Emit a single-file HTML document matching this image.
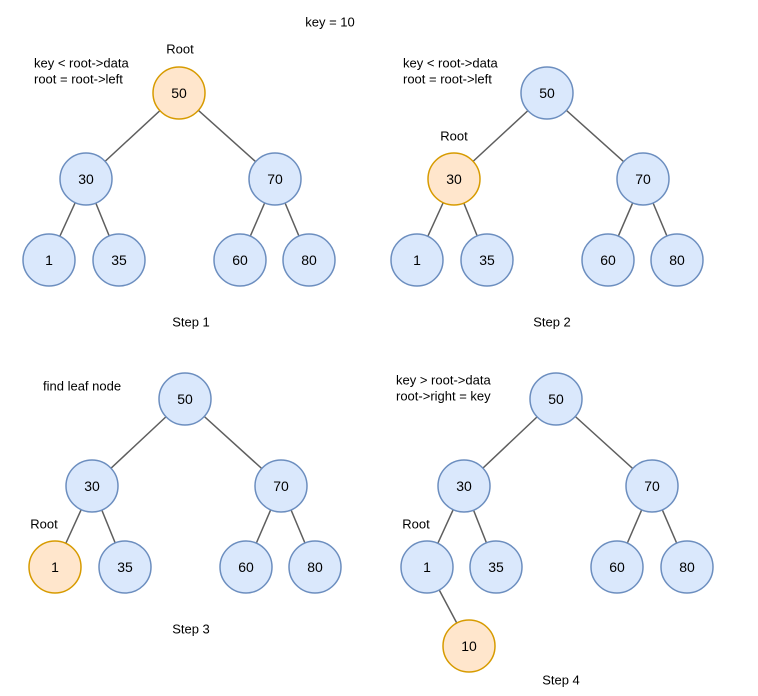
<!DOCTYPE html>
<html><head><style>body{margin:0;background:#fff}svg{display:block}</style></head><body>
<svg width="758" height="696" xmlns="http://www.w3.org/2000/svg" font-family="Liberation Sans, Arial, sans-serif" font-size="13">
<g stroke="#5e5e5e" stroke-width="1.5">
<line x1="179" y1="93" x2="86" y2="179"/><line x1="179" y1="93" x2="275" y2="179"/>
<line x1="86" y1="179" x2="49" y2="260"/><line x1="86" y1="179" x2="119" y2="260"/>
<line x1="275" y1="179" x2="240" y2="260"/><line x1="275" y1="179" x2="309" y2="260"/>
<line x1="547" y1="93" x2="454" y2="179"/><line x1="547" y1="93" x2="643" y2="179"/>
<line x1="454" y1="179" x2="417" y2="260"/><line x1="454" y1="179" x2="487" y2="260"/>
<line x1="643" y1="179" x2="608" y2="260"/><line x1="643" y1="179" x2="677" y2="260"/>
<line x1="185" y1="399" x2="92" y2="486"/><line x1="185" y1="399" x2="281" y2="486"/>
<line x1="92" y1="486" x2="55" y2="567"/><line x1="92" y1="486" x2="125" y2="567"/>
<line x1="281" y1="486" x2="246" y2="567"/><line x1="281" y1="486" x2="315" y2="567"/>
<line x1="556" y1="399" x2="464" y2="486"/><line x1="556" y1="399" x2="652" y2="486"/>
<line x1="464" y1="486" x2="427" y2="567"/><line x1="464" y1="486" x2="496" y2="567"/>
<line x1="652" y1="486" x2="617" y2="567"/><line x1="652" y1="486" x2="687" y2="567"/>
<line x1="427" y1="567" x2="469" y2="646"/>
</g>
<g stroke-width="1.5">
<g fill="#dae8fc" stroke="#6c8ebf">
<circle cx="86" cy="179" r="26"/><circle cx="275" cy="179" r="26"/><circle cx="49" cy="260" r="26"/><circle cx="119" cy="260" r="26"/><circle cx="240" cy="260" r="26"/><circle cx="309" cy="260" r="26"/>
<circle cx="547" cy="93" r="26"/><circle cx="643" cy="179" r="26"/><circle cx="417" cy="260" r="26"/><circle cx="487" cy="260" r="26"/><circle cx="608" cy="260" r="26"/><circle cx="677" cy="260" r="26"/>
<circle cx="185" cy="399" r="26"/><circle cx="92" cy="486" r="26"/><circle cx="281" cy="486" r="26"/><circle cx="125" cy="567" r="26"/><circle cx="246" cy="567" r="26"/><circle cx="315" cy="567" r="26"/>
<circle cx="556" cy="399" r="26"/><circle cx="464" cy="486" r="26"/><circle cx="652" cy="486" r="26"/><circle cx="427" cy="567" r="26"/><circle cx="496" cy="567" r="26"/><circle cx="617" cy="567" r="26"/><circle cx="687" cy="567" r="26"/>
</g>
<g fill="#ffe6cc" stroke="#d79b00">
<circle cx="179" cy="93" r="26"/><circle cx="454" cy="179" r="26"/><circle cx="55" cy="567" r="26"/><circle cx="469" cy="646" r="26"/>
</g>
</g>
<g fill="#000" text-anchor="middle" dominant-baseline="central" font-size="14">
<text x="179" y="93">50</text><text x="86" y="179">30</text><text x="275" y="179">70</text><text x="49" y="260">1</text><text x="119" y="260">35</text><text x="240" y="260">60</text><text x="309" y="260">80</text>
<text x="547" y="93">50</text><text x="454" y="179">30</text><text x="643" y="179">70</text><text x="417" y="260">1</text><text x="487" y="260">35</text><text x="608" y="260">60</text><text x="677" y="260">80</text>
<text x="185" y="399">50</text><text x="92" y="486">30</text><text x="281" y="486">70</text><text x="55" y="567">1</text><text x="125" y="567">35</text><text x="246" y="567">60</text><text x="315" y="567">80</text>
<text x="556" y="399">50</text><text x="464" y="486">30</text><text x="652" y="486">70</text><text x="427" y="567">1</text><text x="496" y="567">35</text><text x="617" y="567">60</text><text x="687" y="567">80</text><text x="469" y="646">10</text>
</g>
<g fill="#000" text-anchor="middle" dominant-baseline="central">
<text x="330" y="22">key = 10</text>
<text x="180" y="49">Root</text><text x="454" y="136">Root</text><text x="44" y="524">Root</text><text x="416" y="524">Root</text>
<text x="191" y="322">Step 1</text><text x="552" y="322">Step 2</text><text x="191" y="629">Step 3</text><text x="561" y="680">Step 4</text>
</g>
<g fill="#000" dominant-baseline="central">
<text x="34" y="63">key &lt; root-&gt;data</text><text x="34" y="79">root = root-&gt;left</text>
<text x="403" y="63">key &lt; root-&gt;data</text><text x="403" y="79">root = root-&gt;left</text>
<text x="43" y="386">find leaf node</text>
<text x="396" y="380">key &gt; root-&gt;data</text><text x="396" y="396">root-&gt;right = key</text>
</g>
</svg>
</body></html>
